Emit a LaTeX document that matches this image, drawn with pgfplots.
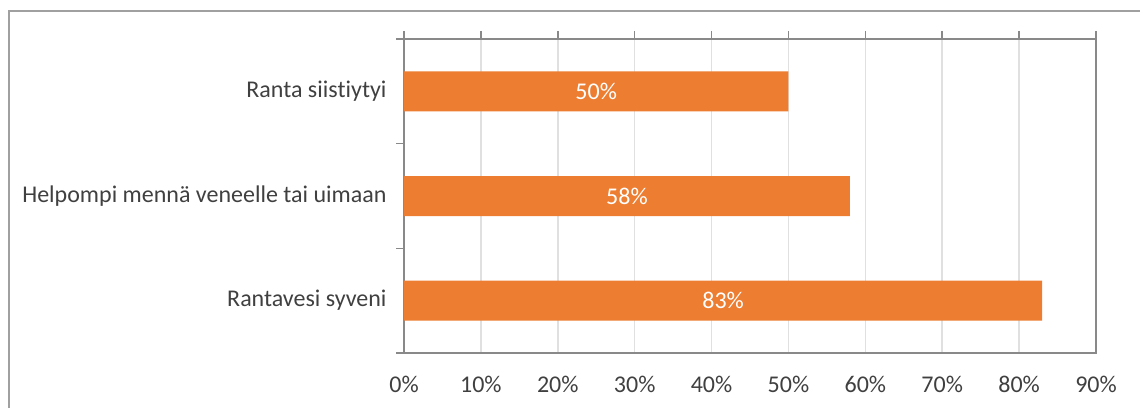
\documentclass[border=0pt]{standalone}
\usepackage{pgfplots}
\pgfplotsset{compat=1.18}
\usepackage{fontspec}
\setmainfont{Carlito}[Ligatures={NoCommon,NoRequired,NoContextual,NoRare}]
\definecolor{barc}{HTML}{ED7D31}
\definecolor{txt}{HTML}{404040}
\definecolor{axc}{HTML}{898989}
\definecolor{gridc}{HTML}{E0E0E0}
\definecolor{framec}{HTML}{A0A0A0}
\begin{document}
\begin{tikzpicture}[x=1pt,y=1pt]
\useasboundingbox (0,0) rectangle (1140,408);
\draw[framec, line width=1.5pt] (9,0) -- (9,397) -- (1140,397);
\begin{axis}[
  at={(404pt,55pt)}, anchor=south west,
  scale only axis, width=692pt, height=314pt,
  xbar, bar width=40pt,
  xmin=0, xmax=90, ymin=0.5, ymax=3.5,
  xtick={0,10,...,90},
  xtick pos=right, xticklabel pos=left,
  xticklabel={\pgfmathprintnumber{\tick}\%},
  /pgf/number format/assume math mode=true,
  ytick={0.5,1.5,2.5,3.5}, yticklabels={},
  ytick pos=left,
  extra y ticks={1,2,3},
  extra y tick labels={Rantavesi syveni, Helpompi mennä veneelle tai uimaan, Ranta siistiytyi},
  extra y tick style={major tick length=0pt, grid=none},
  tick align=outside, major tick length=8pt,
  xmajorgrids, ymajorgrids=false,
  grid style={gridc, line width=1.5pt},
  axis line style={axc, line width=2pt},
  tick style={axc, line width=1.5pt},
  tick label style={font=\fontsize{24}{28}\selectfont, text=txt},
  xticklabel style={yshift=-12pt},
  yticklabel style={xshift=-14pt},
  point meta=x,
  visualization depends on={x \as \rawx},
  nodes near coords={\pgfmathprintnumber{\pgfplotspointmeta}\%},
  every node near coord/.append style={anchor=center, text=white,
     font=\fontsize{24}{28}\selectfont, xshift={-3.84444*\rawx}},
]
\addplot[fill=barc, draw=none] coordinates {(83,1) (58,2) (50,3)};
\end{axis}
\end{tikzpicture}
\end{document}
